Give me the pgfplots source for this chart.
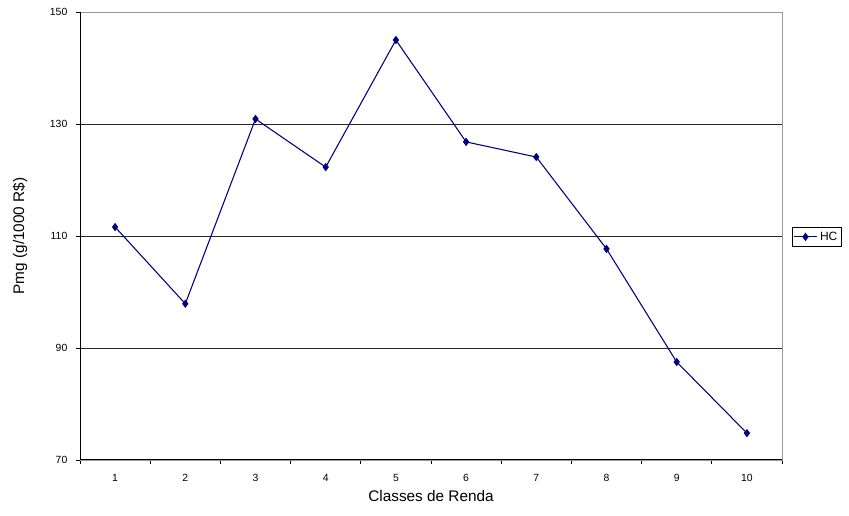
\documentclass[border=0pt]{standalone}
\usepackage{pgfplots}
\pgfplotsset{compat=1.18}
\usepackage{fontspec}
\setmainfont{Liberation Sans}
\definecolor{navy}{RGB}{0,0,128}
\begin{document}
\begin{tikzpicture}
\useasboundingbox (0pt,0pt) rectangle (636.75pt,387pt);
\begin{axis}[
  at={(60pt,42pt)}, anchor=south west,
  scale only axis, width=526.5pt, height=336pt,
  xmin=0.5, xmax=10.5, ymin=70, ymax=150,
  xtick={1,...,10}, major x tick style={draw=none},
  minor xtick={0.5,1.5,...,10.5},
  ytick={70,90,110,130,150},
  tick pos=left,
  tick align=outside, major tick length=3pt, minor tick length=3pt,
  every tick/.style={black, line width=0.6pt},
  axis line style={gray!80, line width=0.6pt},
  ymajorgrids, grid style={black!85, line width=0.6pt},
  tick label style={font=\fontsize{7.8}{9}\selectfont},
  /pgf/number format/assume math mode=true,
  xticklabel style={yshift=-4pt},
  yticklabel style={xshift=-3pt},
  xlabel={Classes de Renda}, ylabel={Pmg (g/1000 R\$)},
  label style={font=\fontsize{11.5}{13}\selectfont},
  xlabel style={at={(rel axis cs:0.5,-0.0804)}, anchor=center},
  ylabel style={at={(rel axis cs:-0.0855,0.5)}, anchor=center},
  legend style={at={(1.014,0.498)}, anchor=west, draw=black, line width=0.6pt,
    font=\fontsize{9}{10}\selectfont, inner sep=1pt, row sep=0pt,
    legend cell align=left},
]
\addplot[navy, line width=0.8pt, mark=diamond*, mark size=2.5pt, mark options={fill=navy}]
  coordinates {(1,111.6) (2,97.9) (3,130.9) (4,122.3) (5,145.0) (6,126.8) (7,124.1) (8,107.7) (9,87.5) (10,74.8)};
\addlegendentry{HC}
\draw[black, line width=0.8pt] (rel axis cs:0,1) -- (rel axis cs:0,0) -- (rel axis cs:1,0);
\end{axis}
\end{tikzpicture}
\end{document}
